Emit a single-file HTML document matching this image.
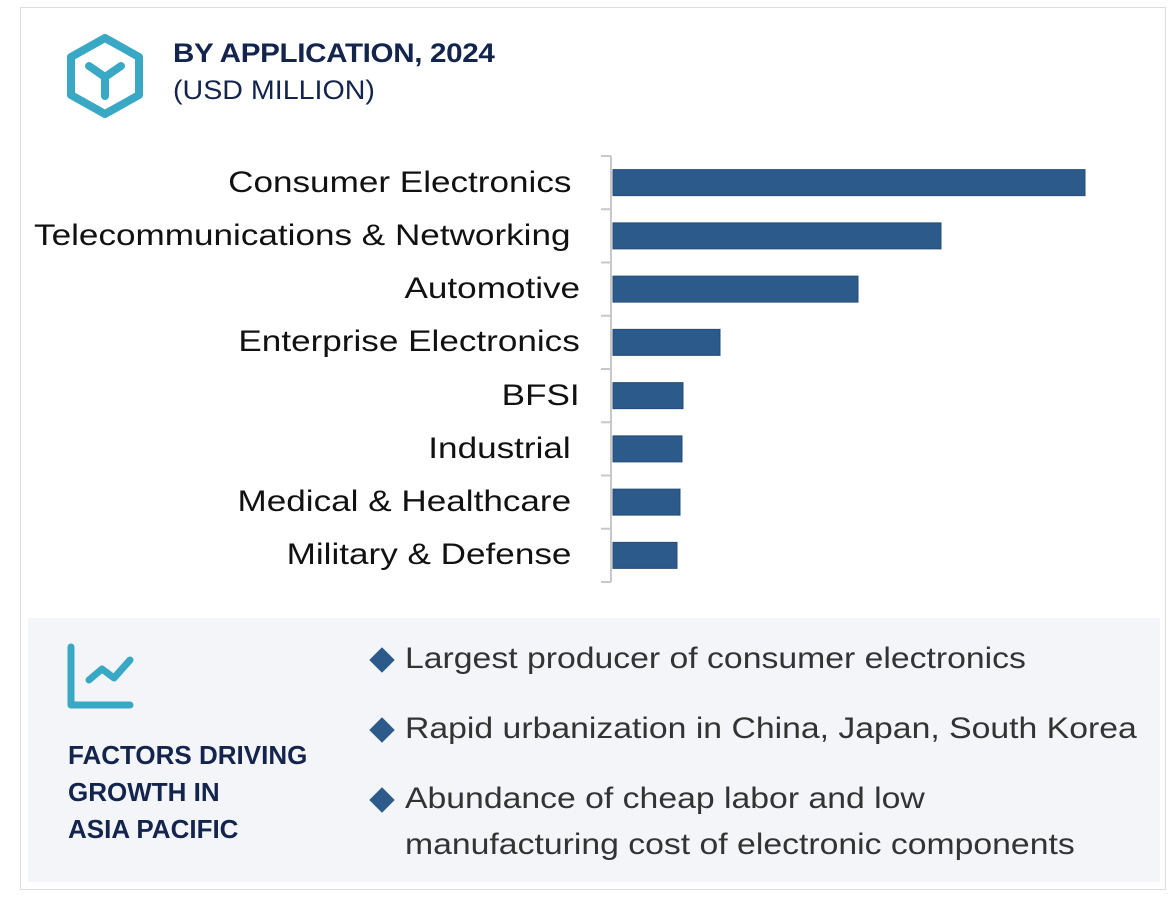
<!DOCTYPE html>
<html><head><meta charset="utf-8"><style>
body{margin:0;width:1170px;height:901px;background:#fff;font-family:"Liberation Sans",sans-serif;position:relative;overflow:hidden}
.abs{position:absolute}
#frame{left:20px;top:7px;width:1146px;height:883px;border:1.5px solid #dcdde3;box-sizing:border-box}
#title{left:173px;top:38px;font-size:27px;font-weight:bold;color:#13254d;letter-spacing:-0.3px;transform:scaleX(1.095);transform-origin:left}
#sub{left:173px;top:75px;font-size:27px;color:#13254d;transform:scaleX(1.06);transform-origin:left}
.lab{position:absolute;font-size:30px;color:#111;text-align:right;white-space:nowrap;transform:translateY(-50%) scaleX(1.17);transform-origin:right center}
#panel{left:28px;top:618px;width:1132px;height:264px;background:#f4f5f9}
.fac{font-size:26px;font-weight:bold;color:#13254d;line-height:37px}
.bul{position:absolute;font-size:30px;color:#333;line-height:46px;left:405px;white-space:nowrap;transform:scaleX(1.125);transform-origin:left}
.dia{position:absolute;left:373px;width:18px;height:18px;background:#2c5a8a;transform:rotate(45deg)}
</style></head><body>
<div id="frame" class="abs"></div>
<svg class="abs" style="left:60px;top:30px" width="90" height="90">
<polygon points="45,8 79,27 79,65 45,84 11,65 11,27" fill="none" stroke="#38a8c4" stroke-width="8" stroke-linejoin="round"/>
<path d="M29,36 L45,47 L61,36 M45,47 L45,66" fill="none" stroke="#38a8c4" stroke-width="8" stroke-linecap="round"/>
</svg>
<div id="title" class="abs">BY APPLICATION, 2024</div>
<div id="sub" class="abs">(USD MILLION)</div>
<svg id="chart" class="abs" style="left:0;top:0" width="1170" height="600"></svg>
<div id="labels"></div>
<div id="panel" class="abs"></div>
<svg class="abs" style="left:64px;top:640px" width="75" height="75">
<path d="M7,7 L7,65 L66,65" fill="none" stroke="#38a8c4" stroke-width="7" stroke-linecap="round" stroke-linejoin="round"/>
<path d="M25,40 L38,29 L50,38 L66,20" fill="none" stroke="#38a8c4" stroke-width="7" stroke-linecap="round" stroke-linejoin="round"/>
</svg>
<div class="abs fac" style="left:68px;top:737px">FACTORS DRIVING<br>GROWTH IN<br>ASIA PACIFIC</div>
<div class="dia" style="top:651px"></div>
<div class="bul" style="top:636px">Largest producer of consumer electronics</div>
<div class="dia" style="top:721px"></div>
<div class="bul" style="top:706px">Rapid urbanization in China, Japan, South Korea</div>
<div class="dia" style="top:791px"></div>
<div class="bul" style="top:776px">Abundance of cheap labor and low<br>manufacturing cost of electronic components</div>
<script>
const categories=["Consumer Electronics","Telecommunications & Networking","Automotive","Enterprise Electronics","BFSI","Industrial","Medical & Healthcare","Military & Defense"];
const values=[4720,3280,2450,1070,700,690,670,640];
const labelRight=[571,571,580,580,580,571,571,571];
const x0=613, pxPerUnit=0.1, top0=156, step=53.25, barH=26;
const xs=v=>x0+v*pxPerUnit;
const yc=i=>top0+step*(i+0.5);
const svg=document.getElementById('chart');
const NS='http://www.w3.org/2000/svg';
let ax=document.createElementNS(NS,'path');
let d=`M611,${top0} L611,${top0+step*categories.length}`;
for(let i=0;i<=categories.length;i++){const y=top0+step*i;d+=` M601,${y} L611,${y}`;}
ax.setAttribute('d',d);ax.setAttribute('stroke','#c8c8c8');ax.setAttribute('stroke-width','2');ax.setAttribute('fill','none');


svg.appendChild(ax);
const lw=document.getElementById('labels');
categories.forEach((c,i)=>{
 const r=document.createElementNS(NS,'rect');
 r.setAttribute('x',x0);r.setAttribute('y',yc(i)-barH/2);r.setAttribute('width',xs(values[i])-x0);r.setAttribute('height',barH);
 r.setAttribute('fill','#2c5a8a');r.setAttribute('stroke','#244c77');r.setAttribute('stroke-width','1');
 
 
 svg.appendChild(r);
 const l=document.createElement('div');
 l.className='lab';l.textContent=c;
 l.style.right=(1170-labelRight[i])+'px';l.style.top=yc(i)+'px';
 
 
 lw.appendChild(l);
});
</script>
</body></html>
